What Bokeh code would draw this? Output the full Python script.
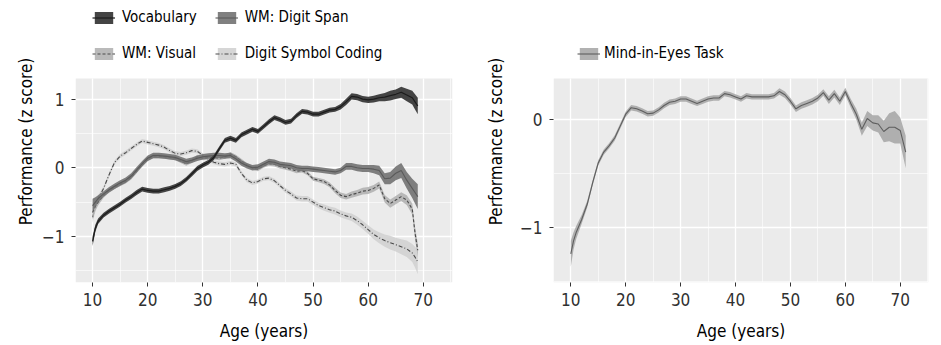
from bokeh.plotting import figure
from bokeh.models import (ColumnDataSource, Range1d, FixedTicker, Legend, LegendItem, BoxAnnotation)
from bokeh.layouts import row
from bokeh.embed import file_html
from bokeh.resources import INLINE

# ---------------- data: left panel ----------------
AGE_L = [10, 10.5, 11, 12, 13, 14, 15, 16, 17, 18, 19, 20, 21, 22, 23, 24, 25, 26, 27, 28, 29,
         30, 31, 32, 33, 34, 35, 36, 37, 38, 39, 40, 41, 42, 43, 44, 45, 46, 47, 48, 49,
         50, 51, 52, 53, 54, 55, 56, 57, 58, 59, 60, 61, 62, 63, 64, 65, 66, 67, 68, 68.5, 69]

VOCAB = [-1.07, -0.88, -0.78, -0.69, -0.63, -0.58, -0.53, -0.47, -0.42, -0.36, -0.31,
         -0.33, -0.34, -0.34, -0.32, -0.30, -0.27, -0.23, -0.17, -0.09, -0.01,
         0.04, 0.08, 0.15, 0.28, 0.40, 0.43, 0.40, 0.48, 0.52, 0.56,
         0.53, 0.60, 0.67, 0.73, 0.70, 0.66, 0.68, 0.76, 0.82, 0.81,
         0.78, 0.78, 0.81, 0.84, 0.85, 0.89, 0.96, 1.04, 1.03, 1.00,
         0.99, 1.00, 1.02, 1.03, 1.05, 1.07, 1.10, 1.06, 1.02, 0.96, 0.90]
VOCAB_HW = [0.07, 0.05, 0.04, 0.035, 0.035, 0.035, 0.035, 0.035, 0.035, 0.035, 0.035,
            0.035, 0.035, 0.035, 0.035, 0.035, 0.035, 0.035, 0.035, 0.035, 0.035,
            0.035, 0.035, 0.035, 0.035, 0.035, 0.035, 0.035, 0.035, 0.035, 0.035,
            0.035, 0.035, 0.035, 0.035, 0.035, 0.035, 0.035, 0.035, 0.035, 0.035,
            0.035, 0.035, 0.035, 0.035, 0.035, 0.04, 0.045, 0.045, 0.045, 0.045,
            0.045, 0.05, 0.05, 0.06, 0.07, 0.07, 0.08, 0.09, 0.10, 0.11, 0.12]

SPAN = [-0.55, -0.50, -0.45, -0.38, -0.32, -0.27, -0.22, -0.18, -0.12, -0.03, 0.06,
        0.14, 0.18, 0.18, 0.17, 0.16, 0.15, 0.12, 0.09, 0.11, 0.14,
        0.16, 0.17, 0.18, 0.18, 0.17, 0.18, 0.13, 0.07, 0.03, 0.00,
        0.01, 0.05, 0.09, 0.08, 0.05, 0.04, 0.03, 0.00, -0.01, -0.01,
        -0.02, -0.03, -0.04, -0.05, -0.06, -0.04, 0.02, 0.02, 0.00, -0.01,
        -0.01, -0.02, -0.04, -0.16, -0.15, -0.08, -0.04, -0.18, -0.30, -0.36, -0.42]
SPAN_HW = [0.10, 0.07, 0.05, 0.04, 0.04, 0.04, 0.04, 0.04, 0.04, 0.04, 0.04,
           0.04, 0.04, 0.04, 0.04, 0.04, 0.04, 0.04, 0.04, 0.04, 0.04,
           0.04, 0.04, 0.04, 0.04, 0.04, 0.04, 0.04, 0.04, 0.04, 0.04,
           0.04, 0.04, 0.04, 0.04, 0.04, 0.04, 0.04, 0.04, 0.04, 0.04,
           0.04, 0.04, 0.04, 0.04, 0.04, 0.04, 0.05, 0.05, 0.05, 0.05,
           0.05, 0.06, 0.07, 0.08, 0.09, 0.10, 0.11, 0.12, 0.14, 0.16, 0.18]

VISUAL = [-0.65, -0.56, -0.50, -0.40, -0.33, -0.28, -0.24, -0.20, -0.14, -0.05, 0.05,
          0.13, 0.17, 0.17, 0.16, 0.15, 0.14, 0.10, 0.06, 0.10, 0.16,
          0.14, 0.15, 0.15, 0.14, 0.16, 0.20, 0.16, 0.10, 0.04, 0.00,
          -0.02, 0.03, 0.06, 0.05, 0.02, 0.00, -0.02, -0.05, -0.04, -0.08,
          -0.16, -0.18, -0.20, -0.25, -0.33, -0.40, -0.42, -0.39, -0.37, -0.34,
          -0.33, -0.30, -0.25, -0.45, -0.52, -0.47, -0.42, -0.47, -0.60, -0.95, -1.20]
VISUAL_HW = [0.10, 0.07, 0.05, 0.035, 0.03, 0.03, 0.03, 0.03, 0.03, 0.03, 0.03,
             0.03, 0.03, 0.03, 0.03, 0.03, 0.03, 0.03, 0.03, 0.03, 0.03,
             0.03, 0.03, 0.03, 0.03, 0.03, 0.03, 0.03, 0.03, 0.03, 0.03,
             0.03, 0.03, 0.03, 0.03, 0.03, 0.03, 0.03, 0.03, 0.03, 0.03,
             0.03, 0.03, 0.035, 0.035, 0.04, 0.04, 0.04, 0.045, 0.045, 0.05,
             0.05, 0.05, 0.05, 0.055, 0.06, 0.06, 0.065, 0.07, 0.08, 0.09, 0.10]

SYMBOL = [-0.72, -0.58, -0.45, -0.30, -0.10, 0.08, 0.17, 0.22, 0.28, 0.34, 0.39,
          0.37, 0.35, 0.33, 0.30, 0.25, 0.21, 0.20, 0.22, 0.25, 0.24,
          0.18, 0.12, 0.08, 0.06, 0.05, 0.07, 0.05, -0.08, -0.18, -0.22,
          -0.20, -0.16, -0.15, -0.19, -0.26, -0.33, -0.38, -0.44, -0.45, -0.45,
          -0.50, -0.55, -0.58, -0.61, -0.63, -0.67, -0.70, -0.72, -0.77, -0.83,
          -0.90, -0.97, -1.02, -1.06, -1.09, -1.12, -1.15, -1.18, -1.24, -1.30, -1.37]
SYMBOL_HW = [0.08, 0.06, 0.05, 0.035, 0.03, 0.03, 0.03, 0.03, 0.03, 0.03, 0.03,
             0.03, 0.03, 0.03, 0.03, 0.03, 0.03, 0.03, 0.03, 0.03, 0.03,
             0.03, 0.03, 0.03, 0.03, 0.03, 0.03, 0.03, 0.03, 0.03, 0.03,
             0.03, 0.03, 0.03, 0.03, 0.03, 0.035, 0.035, 0.035, 0.04, 0.04,
             0.04, 0.04, 0.045, 0.045, 0.05, 0.05, 0.05, 0.055, 0.06, 0.06,
             0.065, 0.07, 0.08, 0.09, 0.10, 0.10, 0.11, 0.12, 0.13, 0.15, 0.18]

# ---------------- data: right panel ----------------
AGE_R = [10, 10.5, 11, 12, 13, 14, 15, 16, 17, 18, 19, 20, 21, 22, 23, 24, 25, 26, 27, 28, 29,
         30, 31, 32, 33, 34, 35, 36, 37, 38, 39, 40, 41, 42, 43, 44, 45, 46, 47, 48, 49,
         50, 51, 52, 53, 54, 55, 56, 57, 58, 59, 60, 61, 62, 63, 64, 65, 66, 67, 68, 69, 70, 71]
EYES = [-1.24, -1.12, -1.04, -0.92, -0.78, -0.58, -0.40, -0.30, -0.24, -0.17, -0.06,
        0.05, 0.11, 0.10, 0.08, 0.055, 0.06, 0.09, 0.13, 0.16, 0.17,
        0.19, 0.19, 0.17, 0.15, 0.17, 0.19, 0.20, 0.20, 0.24, 0.23,
        0.21, 0.19, 0.22, 0.21, 0.21, 0.21, 0.21, 0.22, 0.26, 0.23,
        0.17, 0.10, 0.13, 0.15, 0.17, 0.20, 0.25, 0.18, 0.24, 0.17,
        0.26, 0.15, 0.05, -0.09, 0.01, -0.03, -0.04, -0.11, -0.07, -0.07, -0.10, -0.30]
EYES_HW = [0.12, 0.08, 0.06, 0.04, 0.03, 0.025, 0.025, 0.025, 0.025, 0.025, 0.025,
           0.025, 0.025, 0.025, 0.025, 0.025, 0.025, 0.025, 0.025, 0.025, 0.025,
           0.025, 0.025, 0.025, 0.025, 0.025, 0.025, 0.025, 0.025, 0.025, 0.025,
           0.025, 0.025, 0.025, 0.025, 0.025, 0.025, 0.025, 0.025, 0.03, 0.03,
           0.03, 0.03, 0.03, 0.03, 0.03, 0.03, 0.03, 0.035, 0.035, 0.035,
           0.035, 0.04, 0.05, 0.06, 0.07, 0.07, 0.08, 0.10, 0.13, 0.15, 0.12, 0.15]

X_TICKS = [10, 20, 30, 40, 50, 60, 70]
X_MINOR = [5, 15, 25, 35, 45, 55, 65, 75]
YL_TICKS, YL_MINOR = [-1, 0, 1], [-1.5, -0.5, 0.5]
YR_TICKS, YR_MINOR = [-1, 0], [-1.5, -0.5]

FONT = "DejaVu Sans Condensed"
PANEL_BG = "#ebebeb"
PANEL_PX = 204      # height of the grey panel
LEGEND_PX = 78      # legend strip above the grey panel (part of the frame)


def make_fig(width, xr, yr, bl, br, yticks, yminor, title_standoff):
    y0, y1 = yr
    ytop = y1 + LEGEND_PX * (y1 - y0) / PANEL_PX
    p = figure(width=width, height=345, output_backend="svg", toolbar_location=None,
               x_range=Range1d(*xr), y_range=Range1d(y0, ytop),
               min_border_left=bl, min_border_right=br, min_border_top=0, min_border_bottom=63,
               x_axis_label="Age (years)", y_axis_label="Performance (z score)")
    p.background_fill_color = "white"
    p.border_fill_color = "white"
    p.outline_line_color = None
    panel = BoxAnnotation(bottom=y0, top=y1, fill_color=PANEL_BG, fill_alpha=1,
                          line_color=None, level="image")
    p.add_layout(panel)
    p.xaxis.ticker = FixedTicker(ticks=X_TICKS, minor_ticks=X_MINOR)
    p.yaxis.ticker = FixedTicker(ticks=yticks, minor_ticks=yminor)
    p.yaxis.bounds = (y0, y1)
    p.yaxis.major_label_overrides = {-1: "\u22121"}
    for ax in (p.xaxis[0], p.yaxis[0]):
        ax.axis_line_color = None
        ax.major_tick_line_color = "#333333"
        ax.major_tick_out = 4
        ax.major_tick_in = 0
        ax.minor_tick_line_color = None
        ax.major_label_text_font = FONT
        ax.major_label_text_font_size = "17px"
        ax.major_label_text_color = "#303030"
        ax.axis_label_text_font = FONT
        ax.axis_label_text_font_size = "17px"
        ax.axis_label_text_font_style = "normal"
        ax.axis_label_text_color = "black"
    p.xaxis.major_label_standoff = 6
    p.xaxis.axis_label_standoff = 12
    p.yaxis.major_label_standoff = 7
    p.yaxis.axis_label_standoff = title_standoff
    for g in (p.xgrid[0], p.ygrid[0]):
        g.grid_line_color = "white"
        g.grid_line_width = 1.3
        g.minor_grid_line_color = "white"
        g.minor_grid_line_width = 0.6
    try:
        p.xgrid[0].cross_bounds = (y0, y1)
    except Exception:
        p.xgrid[0].grid_line_color = None
        p.xgrid[0].minor_grid_line_color = None
        p.segment(x0=X_TICKS, y0=[y0] * len(X_TICKS), x1=X_TICKS, y1=[y1] * len(X_TICKS),
                  line_color="white", line_width=1.3, level="underlay")
        p.segment(x0=X_MINOR, y0=[y0] * len(X_MINOR), x1=X_MINOR, y1=[y1] * len(X_MINOR),
                  line_color="white", line_width=0.6, level="underlay")
    return p


def band(vals, hws, sign):
    return [v + sign * h for v, h in zip(vals, hws)]


def make_legend(items, standoff, loc, ncols=1):
    leg = Legend(items=items, location=loc, ncols=ncols)
    leg.label_text_font = FONT
    leg.label_text_font_size = "15px"
    leg.label_text_color = "black"
    leg.glyph_width = 23
    leg.glyph_height = 15
    leg.label_standoff = standoff
    leg.label_height = 18
    leg.spacing = 18
    leg.margin = 0
    leg.padding = 0
    leg.border_line_color = None
    leg.background_fill_alpha = 0
    leg.inactive_fill_alpha = 0
    return leg


# ---------------- left panel ----------------
srcL = ColumnDataSource(dict(
    age=AGE_L,
    voc=VOCAB, voc_lo=band(VOCAB, VOCAB_HW, -1), voc_hi=band(VOCAB, VOCAB_HW, 1),
    spn=SPAN, spn_lo=band(SPAN, SPAN_HW, -1), spn_hi=band(SPAN, SPAN_HW, 1),
    vis=VISUAL, vis_lo=band(VISUAL, VISUAL_HW, -1), vis_hi=band(VISUAL, VISUAL_HW, 1),
    sym=SYMBOL, sym_lo=band(SYMBOL, SYMBOL_HW, -1), sym_hi=band(SYMBOL, SYMBOL_HW, 1),
))
p1 = make_fig(470, (6.9, 75.3), (-1.67, 1.30), 75, 18, YL_TICKS, YL_MINOR, 3)

b_sym = p1.varea(x="age", y1="sym_lo", y2="sym_hi", source=srcL, fill_color="#d2d2d2", fill_alpha=0.9)
l_sym = p1.line(x="age", y="sym", source=srcL, line_color="#4a4a4a", line_width=1.1, line_dash="4 2 1 2")
b_vis = p1.varea(x="age", y1="vis_lo", y2="vis_hi", source=srcL, fill_color="#b2b2b2", fill_alpha=0.9)
l_vis = p1.line(x="age", y="vis", source=srcL, line_color="#4a4a4a", line_width=1.1, line_dash="3 2")
b_spn = p1.varea(x="age", y1="spn_lo", y2="spn_hi", source=srcL, fill_color="#727272", fill_alpha=0.9)
l_spn = p1.line(x="age", y="spn", source=srcL, line_color="#5a5a5a", line_width=1.1)
b_voc = p1.varea(x="age", y1="voc_lo", y2="voc_hi", source=srcL, fill_color="#3a3a3a", fill_alpha=0.95)
l_voc = p1.line(x="age", y="voc", source=srcL, line_color="#1c1c1c", line_width=1.2)

# column-major fill: first column Vocabulary / WM: Visual, second column Digit Span / Symbol
leg1 = make_legend([
    LegendItem(label="Vocabulary", renderers=[b_voc, l_voc]),
    LegendItem(label="WM: Visual", renderers=[b_vis, l_vis]),
    LegendItem(label="WM: Digit Span", renderers=[b_spn, l_spn]),
    LegendItem(label="Digit Symbol Coding", renderers=[b_sym, l_sym]),
], 7, (17, 220), ncols=2)
p1.add_layout(leg1, "center")

# ---------------- right panel ----------------
srcR = ColumnDataSource(dict(
    age=AGE_R, eye=EYES, eye_lo=band(EYES, EYES_HW, -1), eye_hi=band(EYES, EYES_HW, 1),
))
p2 = make_fig(471, (6.85, 75.15), (-1.505, 0.38), 83, 13, YR_TICKS, YR_MINOR, 11)
b_eye = p2.varea(x="age", y1="eye_lo", y2="eye_hi", source=srcR, fill_color="#a9a9a9", fill_alpha=0.9)
l_eye = p2.line(x="age", y="eye", source=srcR, line_color="#5e5e5e", line_width=1.1)
leg2 = make_legend([LegendItem(label="Mind-in-Eyes Task", renderers=[b_eye, l_eye])], 4, (24, 220))
p2.add_layout(leg2, "center")

layout = row(p1, p2, spacing=0)
open("out.html", "w").write(file_html(layout, INLINE))
